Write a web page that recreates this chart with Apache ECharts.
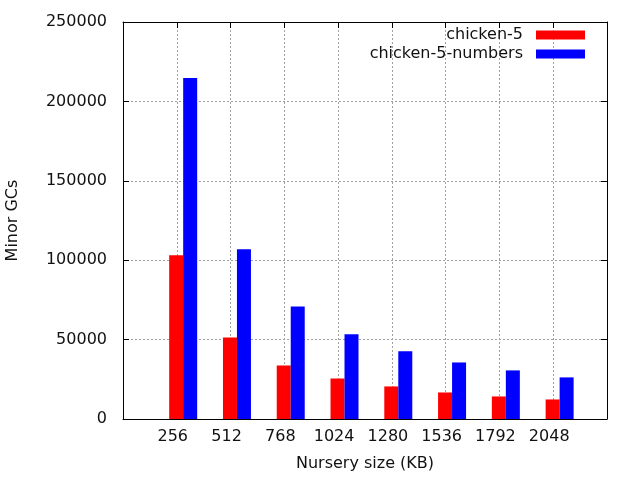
<!DOCTYPE html>
<html><head><meta charset="utf-8">
<script src="https://cdn.jsdelivr.net/npm/echarts@6/dist/echarts.min.js"></script>
<style>html,body{margin:0;padding:0;background:#fff}#c{width:640px;height:480px}</style>
</head><body><div id="c"></div>
<script>
const categories = ['256','512','768','1024','1280','1536','1792','2048'];
const seriesNames = ['chicken-5', 'chicken-5-numbers'];
const chicken5 = [103100, 51400, 33700, 25500, 20500, 16700, 14200, 12300];
const chicken5numbers = [214700, 106900, 70900, 53300, 42600, 35600, 30600, 26200];
const yMin = 0, yMax = 250000, yStep = 50000;

const FONT = 'DejaVu Sans';
const FS = 16;
const TXT = '#111';
const grid = {left: 123, right: 33, top: 22, bottom: 61, show: false, outerBoundsMode: 'none', containLabel: false};
const gridLine = {show: true, showMinLine: false, showMaxLine: false, lineStyle: {color: '#a0a0a0', type: [2, 2], width: 1}};
const black = {color: '#000', width: 1};

const chart = echarts.init(document.getElementById('c'), null, {renderer: 'canvas'});
chart.setOption({
  animation: false,
  backgroundColor: '#fff',
  grid: grid,
  legend: [
    {data: [seriesNames[0]], right: 55, top: 27, padding: 0, align: 'right', itemWidth: 49, itemHeight: 9,
     icon: 'rect', textStyle: {fontFamily: FONT, fontSize: FS, color: TXT, padding: [0, 8, 0, 0]}},
    {data: [seriesNames[1]], right: 55, top: 46, padding: 0, align: 'right', itemWidth: 49, itemHeight: 9,
     icon: 'rect', textStyle: {fontFamily: FONT, fontSize: FS, color: TXT, padding: [0, 8, 0, 0]}}
  ],
  xAxis: [
    {type: 'value', min: -1, max: categories.length, interval: 1, position: 'bottom',
     name: 'Nursery size (KB)', nameLocation: 'middle', nameGap: 37,
     nameTextStyle: {fontFamily: FONT, fontSize: FS, color: TXT},
     axisLine: {show: true, onZero: false, lineStyle: black},
     axisTick: {show: true, inside: true, length: 6, lineStyle: black},
     axisLabel: {show: true, margin: 10, fontFamily: FONT, fontSize: FS, color: TXT, padding: [0, 8, 0, 0],
       formatter: v => (v >= 0 && v < categories.length) ? categories[v] : ''},
     splitLine: gridLine},
    {type: 'value', min: -1, max: categories.length, interval: 1, position: 'top',
     axisLine: {show: true, onZero: false, lineStyle: black},
     axisTick: {show: true, inside: true, length: 6, lineStyle: black},
     axisLabel: {show: false}, splitLine: {show: false}},
    {type: 'value', min: -1.119, max: categories.length - 0.119, show: false,
     axisLine: {onZero: false}, splitLine: {show: false}}
  ],
  yAxis: [
    {type: 'value', min: yMin, max: yMax, interval: yStep, position: 'left',
     name: 'Minor GCs', nameLocation: 'middle', nameGap: 102, nameRotate: 90,
     nameTextStyle: {fontFamily: FONT, fontSize: FS, color: TXT},
     axisLine: {show: true, onZero: false, lineStyle: black},
     axisTick: {show: true, inside: true, length: 6, lineStyle: black},
     axisLabel: {margin: 16, fontFamily: FONT, fontSize: FS, color: TXT, formatter: v => String(v)},
     splitLine: gridLine},
    {type: 'value', min: yMin, max: yMax, interval: yStep, position: 'right',
     axisLine: {show: true, onZero: false, lineStyle: black},
     axisTick: {show: true, inside: true, length: 6, lineStyle: black},
     axisLabel: {show: false}, splitLine: {show: false}}
  ],
  series: [
    {name: seriesNames[0], type: 'bar', xAxisIndex: 2, yAxisIndex: 0, barWidth: 14, barGap: '0%',
     itemStyle: {color: '#ff0000'}, data: chicken5.map((v, i) => [i, v])},
    {name: seriesNames[1], type: 'bar', xAxisIndex: 2, yAxisIndex: 0, barWidth: 14, barGap: '0%',
     itemStyle: {color: '#0000ff'}, data: chicken5numbers.map((v, i) => [i, v])}
  ]
});
</script></body></html>
